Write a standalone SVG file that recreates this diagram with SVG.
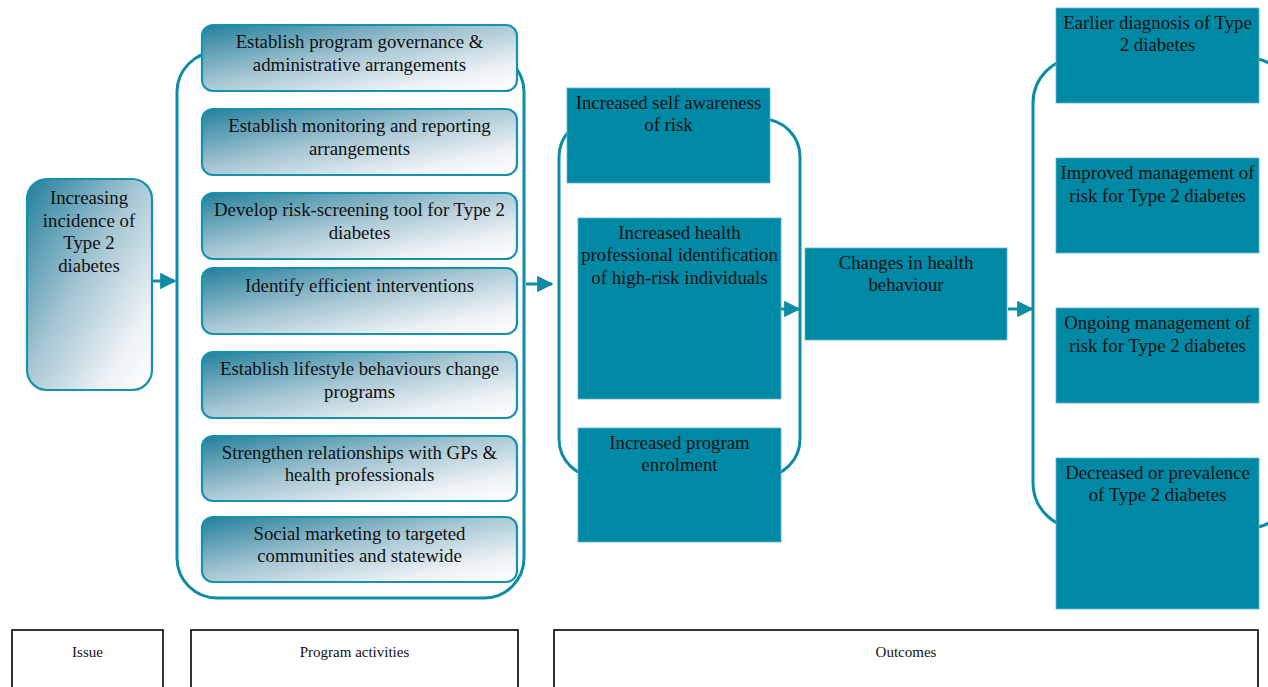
<svg xmlns="http://www.w3.org/2000/svg" width="1268" height="687" viewBox="0 0 1268 687">
  <defs>
    <linearGradient id="soft" x1="0" y1="0" x2="1" y2="1">
      <stop offset="0" stop-color="#217f9c"/>
      <stop offset="0.45" stop-color="#a4c5d2"/>
      <stop offset="0.8" stop-color="#eef2f6"/>
      <stop offset="1" stop-color="#ffffff"/>
    </linearGradient>
    <marker id="head" viewBox="0 0 10 10" refX="9" refY="5" markerWidth="5.5" markerHeight="5.5" orient="auto" markerUnits="strokeWidth">
      <path d="M0,0 L10,5 L0,10 Z" fill="#0e8ca6"/>
    </marker>
  </defs>
  <style>
    .soft { fill: url(#soft); stroke: #1593ad; stroke-width: 2.2; }
    .solid { fill: #0089a5; stroke: #5fb6c8; stroke-width: 0.8; }
    .bracket { fill: none; stroke: #0e8ca6; stroke-width: 3; }
    .conn { fill: none; stroke: #0e8ca6; stroke-width: 3; }
    .label { fill: #fff; stroke: #000; stroke-width: 1.6; }
    text { font-family: "Liberation Serif", "Times New Roman", serif; font-size: 18.8px; fill: #111; text-anchor: middle; }
    .small { font-size: 15px; }
  </style>

  <rect width="1268" height="687" fill="#ffffff"/>

  <!-- group outlines -->
  <g id="brackets">
    <rect class="bracket" x="177" y="52" width="347" height="546" rx="40"/>
    <rect class="bracket" x="559" y="119" width="241" height="358" rx="38"/>
    <rect class="bracket" x="1033" y="58" width="260" height="470" rx="45"/>
  </g>

  <!-- connectors -->
  <g id="connectors">
    <line class="conn" x1="153" y1="281" x2="175" y2="281" marker-end="url(#head)"/>
    <line class="conn" x1="526" y1="284" x2="552" y2="284" marker-end="url(#head)"/>
    <line class="conn" x1="781" y1="309" x2="799" y2="309" marker-end="url(#head)"/>
    <line class="conn" x1="1008" y1="309" x2="1032" y2="309" marker-end="url(#head)"/>
  </g>

  <!-- issue -->
  <g id="issue">
    <rect class="soft" x="27" y="179" width="125" height="211" rx="20"/>
    <text x="89" y="204">Increasing</text>
    <text x="89" y="227">incidence of</text>
    <text x="89" y="249">Type 2</text>
    <text x="89" y="272">diabetes</text>
  </g>

  <!-- program activities -->
  <g id="act-governance">
    <rect class="soft" x="202" y="25" width="315" height="66" rx="11"/>
    <text x="359.5" y="48">Establish program governance &amp;</text>
    <text x="359.5" y="71">administrative arrangements</text>
  </g>
  <g id="act-monitoring">
    <rect class="soft" x="202" y="109" width="315" height="66" rx="11"/>
    <text x="359.5" y="132">Establish monitoring and reporting</text>
    <text x="359.5" y="155">arrangements</text>
  </g>
  <g id="act-screening">
    <rect class="soft" x="202" y="193" width="315" height="66" rx="11"/>
    <text x="359.5" y="216">Develop risk-screening tool for Type 2</text>
    <text x="359.5" y="239">diabetes</text>
  </g>
  <g id="act-interventions">
    <rect class="soft" x="202" y="268" width="315" height="66" rx="11"/>
    <text x="359.5" y="292">Identify efficient interventions</text>
  </g>
  <g id="act-lifestyle">
    <rect class="soft" x="202" y="352" width="315" height="66" rx="11"/>
    <text x="359.5" y="375">Establish lifestyle behaviours change</text>
    <text x="359.5" y="398">programs</text>
  </g>
  <g id="act-relationships">
    <rect class="soft" x="202" y="436" width="315" height="65" rx="11"/>
    <text x="359.5" y="459">Strengthen relationships with GPs &amp;</text>
    <text x="359.5" y="481">health professionals</text>
  </g>
  <g id="act-marketing">
    <rect class="soft" x="202" y="517" width="315" height="65" rx="11"/>
    <text x="359.5" y="540">Social marketing to targeted</text>
    <text x="359.5" y="562">communities and statewide</text>
  </g>

  <!-- short-term outcomes -->
  <g id="out-awareness">
    <rect class="solid" x="567" y="88" width="203" height="95"/>
    <text x="668.5" y="109">Increased self awareness</text>
    <text x="668.5" y="131">of risk</text>
  </g>
  <g id="out-identification">
    <rect class="solid" x="578" y="218" width="203" height="181"/>
    <text x="679.5" y="239">Increased health</text>
    <text x="679.5" y="261">professional identification</text>
    <text x="679.5" y="284">of high-risk individuals</text>
  </g>
  <g id="out-enrolment">
    <rect class="solid" x="578" y="428" width="203" height="114"/>
    <text x="679.5" y="449">Increased program</text>
    <text x="679.5" y="471">enrolment</text>
  </g>

  <!-- intermediate outcome -->
  <g id="out-behaviour">
    <rect class="solid" x="805" y="248" width="202" height="92"/>
    <text x="906" y="269">Changes in health</text>
    <text x="906" y="291">behaviour</text>
  </g>

  <!-- long-term outcomes -->
  <g id="out-diagnosis">
    <rect class="solid" x="1056" y="8" width="203" height="95"/>
    <text x="1157.5" y="29">Earlier diagnosis of Type</text>
    <text x="1157.5" y="51">2 diabetes</text>
  </g>
  <g id="out-improved">
    <rect class="solid" x="1056" y="158" width="203" height="95"/>
    <text x="1157.5" y="179">Improved management of</text>
    <text x="1157.5" y="202">risk for Type 2 diabetes</text>
  </g>
  <g id="out-ongoing">
    <rect class="solid" x="1056" y="308" width="203" height="95"/>
    <text x="1157.5" y="329">Ongoing management of</text>
    <text x="1157.5" y="352">risk for Type 2 diabetes</text>
  </g>
  <g id="out-prevalence">
    <rect class="solid" x="1056" y="458" width="203" height="151"/>
    <text x="1157.5" y="479">Decreased or prevalence</text>
    <text x="1157.5" y="501">of Type 2 diabetes</text>
  </g>

  <!-- column labels -->
  <g id="label-issue">
    <rect class="label" x="12" y="630" width="151" height="70"/>
    <text class="small" x="87.5" y="657">Issue</text>
  </g>
  <g id="label-activities">
    <rect class="label" x="191" y="630" width="327" height="70"/>
    <text class="small" x="354.5" y="657">Program activities</text>
  </g>
  <g id="label-outcomes">
    <rect class="label" x="554" y="630" width="704" height="70"/>
    <text class="small" x="906" y="657">Outcomes</text>
  </g>
</svg>
